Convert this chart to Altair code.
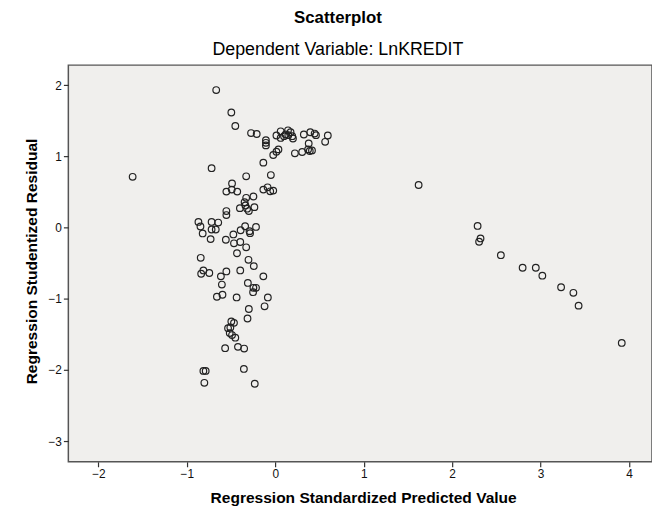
import altair as alt
import pandas as pd

# Regression Standardized Predicted Value
pred = [
    -0.668, -0.497, -0.452, -0.274, -0.210, -0.106, -0.106, -0.106, 0.013, 0.061,
    0.061, 0.099, 0.144, 0.147, 0.173, 0.192, 0.200, 0.117, 0.323, 0.396,
    0.445, 0.460, 0.594, 0.564, 0.378, 0.371, 0.415, 0.390, 0.304, 0.222,
    0.036, 0.013, -0.023, -0.135, -0.720, -0.329, -0.050, -0.489, -0.553, -0.492,
    -0.430, -0.135, -0.087, -0.057, -0.023, -0.247, -0.329, -0.347, -0.400, -0.318,
    -0.299, -0.236, -0.338, -0.553, -0.553, -0.869, -0.846, -0.821, -0.720, -0.645,
    -0.720, -0.673, -0.731, -0.341, -0.291, -0.285, -0.218, -0.392, -0.474, -0.559,
    -0.467, -0.396, -0.329, -0.433, -0.303, -0.243, -0.843, -0.813, -0.838, -0.746,
    -0.553, -0.615, -0.396, -0.135, -0.604, -0.310, -0.247, -0.218, -0.251, -0.660,
    -0.597, -0.437, -0.084, -0.121, -0.299, -0.314, -0.497, -0.467, -0.534, -0.508,
    -0.515, -0.489, -0.452, -0.567, -0.422, -0.352, -0.355, -0.813, -0.787, -0.802,
    -0.232, -1.613,
    1.621, 2.288, 2.321, 2.305, 2.551, 2.797, 2.946, 3.020, 3.232, 3.371, 3.430, 3.918,
]

# Regression Studentized Residual
resid = [
    1.930, 1.615, 1.425, 1.326, 1.313, 1.225, 1.189, 1.153, 1.292, 1.351,
    1.258, 1.282, 1.365, 1.296, 1.338, 1.282, 1.250, 1.306, 1.306, 1.338,
    1.319, 1.296, 1.292, 1.203, 1.181, 1.097, 1.083, 1.074, 1.060, 1.042,
    1.097, 1.064, 1.018, 0.911, 0.833, 0.719, 0.736, 0.619, 0.504, 0.532,
    0.504, 0.532, 0.564, 0.508, 0.518, 0.435, 0.417, 0.356, 0.272, 0.264,
    0.231, 0.286, 0.310, 0.231, 0.175, 0.078, 0.014, -0.083, 0.078, 0.069,
    -0.028, -0.028, -0.163, 0.018, -0.051, -0.079, 0.008, -0.038, -0.097, -0.172,
    -0.222, -0.204, -0.278, -0.361, -0.454, -0.542, -0.426, -0.603, -0.649, -0.639,
    -0.617, -0.686, -0.603, -0.686, -0.801, -0.778, -0.847, -0.847, -0.908, -0.972,
    -0.944, -0.982, -0.982, -1.107, -1.144, -1.278, -1.319, -1.339, -1.413, -1.403,
    -1.482, -1.510, -1.547, -1.694, -1.676, -1.700, -1.986, -2.014, -2.014, -2.181,
    -2.194, 0.712,
    0.597, 0.022, -0.153, -0.200, -0.389, -0.565, -0.565, -0.676, -0.839, -0.917, -1.097, -1.621,
]

x_ticks = [-2, -1, 0, 1, 2, 3, 4]
y_ticks = [-3, -2, -1, 0, 1, 2]

df = pd.DataFrame({"pred": pred, "resid": resid})

FONT = "Liberation Sans, Arial, sans-serif"
NARROW = "Liberation Sans Narrow, Liberation Sans, Arial, sans-serif"

axis_common = dict(
    grid=False,
    domain=False,
    ticks=True,
    tickSize=5,
    tickColor="#333333",
    tickWidth=1.2,
    labelFont=NARROW,
    labelFontSize=12,
    labelColor="#111111",
    labelPadding=2,
    titleFont=FONT,
    titleFontSize=15.7,
    titleFontWeight="bold",
    titleColor="#000000",
    titleBaseline="middle",
    titleAnchor="middle",
)

chart = (
    alt.Chart(df)
    .mark_point(shape="circle", filled=False, size=45, stroke="#222222", strokeWidth=1.2, opacity=1)
    .encode(
        x=alt.X(
            "pred:Q",
            scale=alt.Scale(domain=[-2.34, 4.26], nice=False, zero=False),
            axis=alt.Axis(
                values=x_ticks,
                title="Regression Standardized Predicted Value",
                titleX=298,
                titleY=36,
                **axis_common,
            ),
        ),
        y=alt.Y(
            "resid:Q",
            scale=alt.Scale(domain=[-3.29, 2.28], nice=False, zero=False),
            axis=alt.Axis(
                values=y_ticks,
                title="Regression Studentized Residual",
                titleX=-37,
                titleY=198,
                titleAngle=-90,
                **axis_common,
            ),
        ),
    )
    .properties(
        width=590,
        height=401,
        background="white",
        autosize=alt.AutoSizeParams(type="none"),
        padding={"left": 61, "top": 55, "right": 0, "bottom": 50},
        title=alt.TitleParams(
            text="Scatterplot",
            subtitle="Dependent Variable: LnKREDIT",
            font=FONT,
            fontSize=17,
            fontWeight="bold",
            color="#000000",
            subtitleFont=FONT,
            subtitleFontSize=18,
            subtitleFontWeight="normal",
            subtitleColor="#000000",
            subtitlePadding=15,
            anchor="middle",
            frame="bounds",
            offset=5,
        ),
    )
    .configure_view(fill="#F0EFED", stroke="#555555", strokeWidth=1.5)
)

chart.save("out.html", embed_options={"renderer": "svg", "actions": False})
